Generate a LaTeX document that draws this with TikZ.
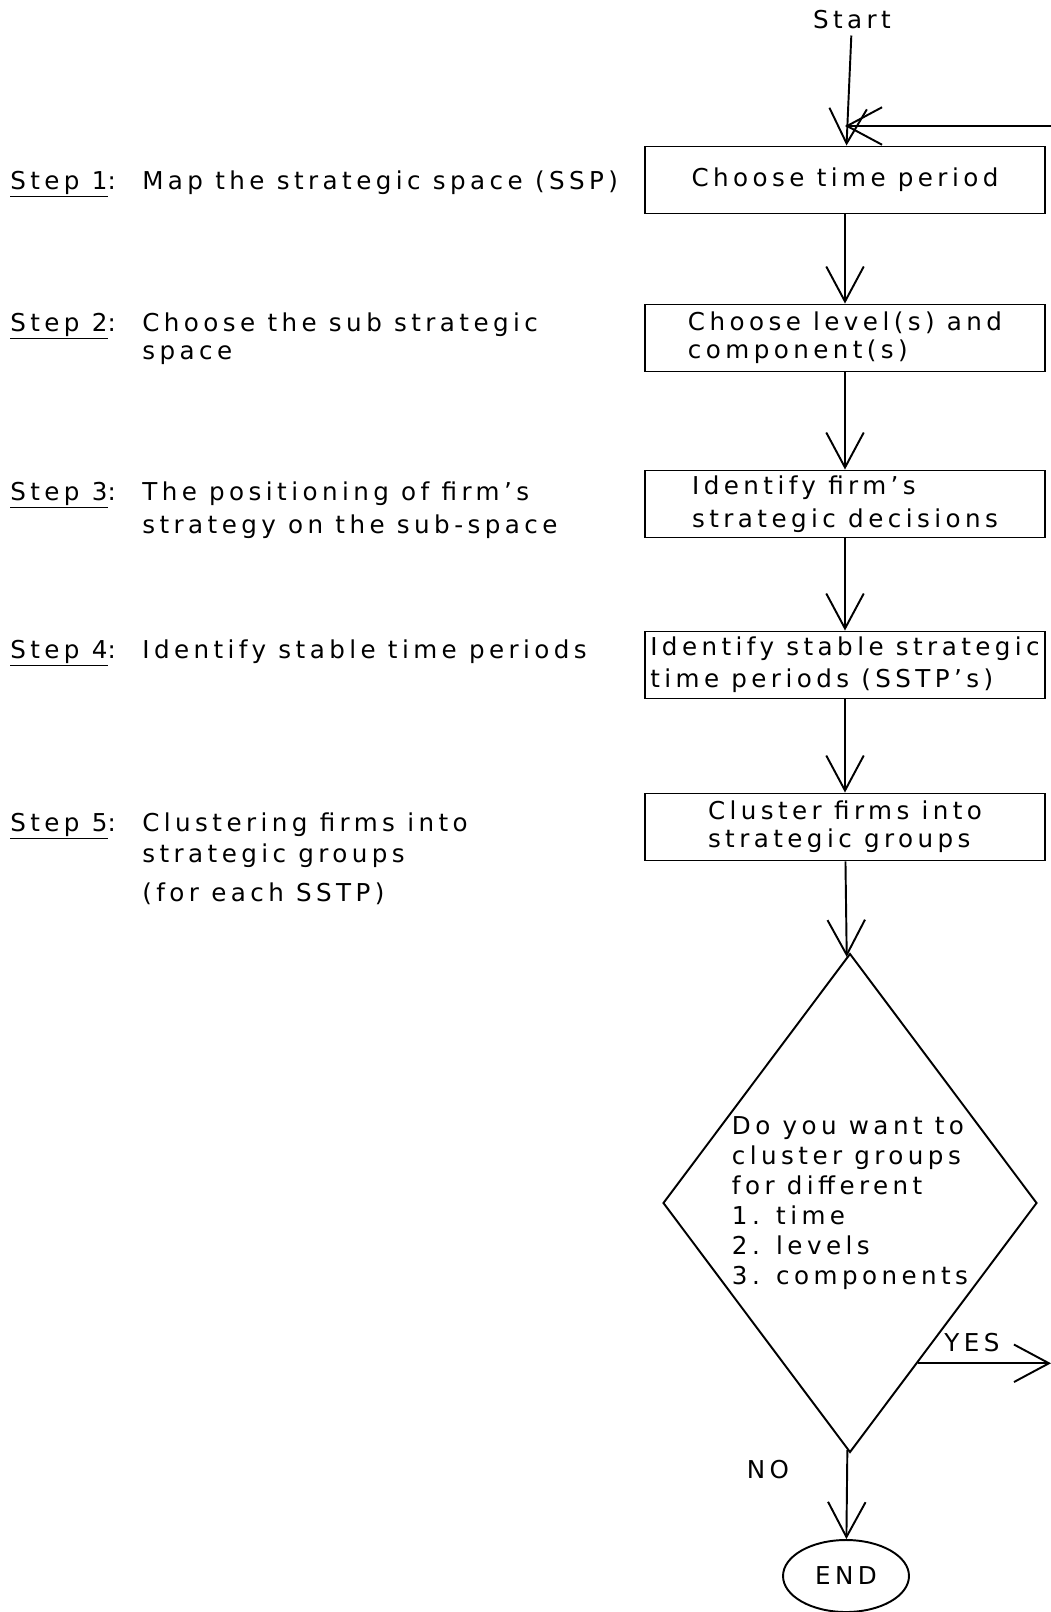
\documentclass[tikz,border=0pt]{standalone}
\usepackage{fontspec}
\setmainfont{DejaVu Sans}[LetterSpace=18]
\usetikzlibrary{arrows.meta,positioning,shapes.geometric,calc}

\begin{document}
\begin{tikzpicture}[x=0.02cm,y=-0.02cm,
  every node/.style={font=\fontsize{14}{16}\selectfont},
  box/.style={draw,line width=1.1pt,align=left,minimum width=8cm,
    minimum height=1.34cm,inner sep=2pt},
  arr/.style={-{Straight Barb[length=7mm,width=7.5mm,line width=1.1pt]},line width=1.1pt},
  lbl/.style={anchor=base west,align=left,inner sep=0pt},
  desc/.style={anchor=north west,align=left,inner sep=0pt}
]
  \useasboundingbox (0,0) rectangle (1051,1612);

  % left column: the steps
  \node[lbl] (st1) at (10,189) {\underline{Step 1}:};
  \node[desc] (sd1) at (142,170) {Map the strategic space (SSP)};
  \node[lbl] (st2) at (10,331) {\underline{Step 2}:};
  \node[desc] (sd2) at (142,312) {Choose the sub strategic\\space};
  \node[lbl] (st3) at (10,500) {\underline{Step 3}:};
  \node[desc] (sd3) at (142,481) {The positioning of firm's\\[3pt]strategy on the sub-space};
  \node[lbl] (st4) at (10,658) {\underline{Step 4}:};
  \node[desc] (sd4) at (142,639) {Identify stable time periods};
  \node[lbl] (st5) at (10,831) {\underline{Step 5}:};
  \node[desc] (sd5) at (142,812) {Clustering firms into\\[2pt]strategic groups\\[6pt](for each SSTP)};

  % right column: the flow
  \node (start) at (852,20) {Start};
  \node[box] (b1) at (845,180) {Choose time period};
  \node[box] (b2) at (845,338) {Choose level(s) and\\component(s)};
  \node[box] (b3) at (845,504) {Identify firm's\\[3pt]strategic decisions};
  \node[box] (b4) at (845,665) {Identify stable strategic\\[2pt]time periods (SSTP's)};
  \node[box] (b5) at (845,827) {Cluster firms into\\strategic groups};
  \node[draw,diamond,line width=1.1pt,inner sep=0pt,minimum width=7.48cm,
    minimum height=9.98cm] (dia) at (850,1203) {};
  \node[align=left,inner sep=0pt,font=\fontsize{14}{17}\selectfont] (ask)
    at (dia.center) {Do you want to\\cluster groups\\for different\\1. time\\2. levels\\3. components};
  \node[draw,ellipse,line width=1.1pt,minimum width=2.52cm,minimum height=1.44cm]
    (end) at (846,1576) {END};
  \node (no) at (768,1470) {NO};
  \node (yes) at (972,1343) {YES};

  \coordinate (fb) at (1051,126);
  \coordinate (jn) at (b1.north |- fb);
  \coordinate (yes0) at ($(dia.east)!0.64!(dia.south)$);
  \coordinate (yesout) at (yes0 -| fb);

  \draw[arr] (start) -- (b1);
  \draw[arr] (fb) -- (jn);
  \draw[arr] (b1) -- (b2);
  \draw[arr] (b2) -- (b3);
  \draw[arr] (b3) -- (b4);
  \draw[arr] (b4) -- (b5);
  \draw[arr] (b5) -- (dia);
  \draw[arr] (dia) -- (end);
  \draw[arr] (yes0) -- (yesout);
\end{tikzpicture}
\end{document}
